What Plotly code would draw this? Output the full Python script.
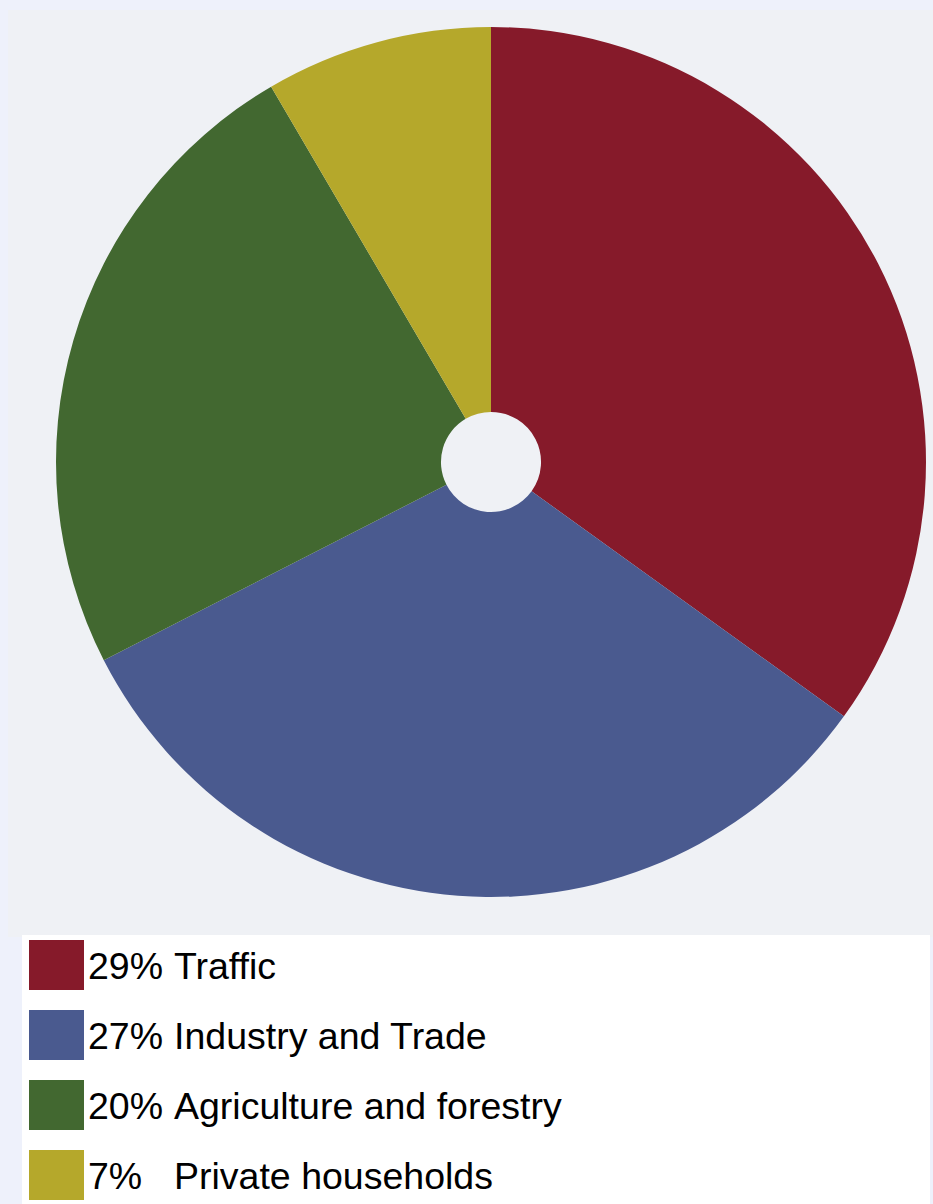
import plotly.graph_objects as go

# Emission sources and their shares (percent)
categories = ["Traffic", "Industry and Trade", "Agriculture and forestry", "Private households"]
shares = [29, 27, 20, 7]
colors = ["#861a2a", "#4a5a8f", "#426830", "#b5a82b"]

W, H = 933, 1204

fig = go.Figure(
    go.Pie(
        labels=categories,
        values=shares,
        marker=dict(colors=colors, line=dict(width=0)),
        hole=0.115,
        sort=False,
        direction="clockwise",
        rotation=0,
        textinfo="none",
        hoverinfo="label+percent",
        showlegend=False,
        domain=dict(x=[56 / W, 926 / W], y=[1 - 897 / H, 1 - 27 / H]),
    )
)

shapes = [
    # light panel behind the pie
    dict(type="rect", xref="paper", yref="paper", x0=8 / W, x1=1, y0=1 - 937 / H, y1=1 - 10 / H,
         fillcolor="#eff1f5", line=dict(width=0), layer="below"),
    # legend box
    dict(type="rect", xref="paper", yref="paper", x0=22 / W, x1=930 / W, y0=0, y1=1 - 935 / H,
         fillcolor="#ffffff", line=dict(width=0), layer="below"),
]
annotations = []

# legend rows: colour key, percentage, category name
row_top, row_step, key_h = 940, 70, 50
legend_font = dict(family="Liberation Sans, Arial", size=37.5, color="#000")
for i, (name, share, col) in enumerate(zip(categories, shares, colors)):
    y0 = row_top + i * row_step
    yc = 1 - (y0 + key_h / 2 + 1) / H
    shapes.append(dict(type="rect", xref="paper", yref="paper",
                       x0=29 / W, x1=84 / W, y0=1 - (y0 + key_h) / H, y1=1 - y0 / H,
                       fillcolor=col, line=dict(width=0)))
    annotations.append(dict(xref="paper", yref="paper", x=86 / W, y=yc, text=f"{share}%",
                            showarrow=False, xanchor="left", yanchor="middle", font=legend_font))
    annotations.append(dict(xref="paper", yref="paper", x=172 / W, y=yc, text=name,
                            showarrow=False, xanchor="left", yanchor="middle", font=legend_font))

fig.update_layout(
    width=W,
    height=H,
    margin=dict(l=0, r=0, t=0, b=0),
    paper_bgcolor="#eef1fb",
    plot_bgcolor="#eef1fb",
    shapes=shapes,
    annotations=annotations,
)

fig.write_html("out.html")
